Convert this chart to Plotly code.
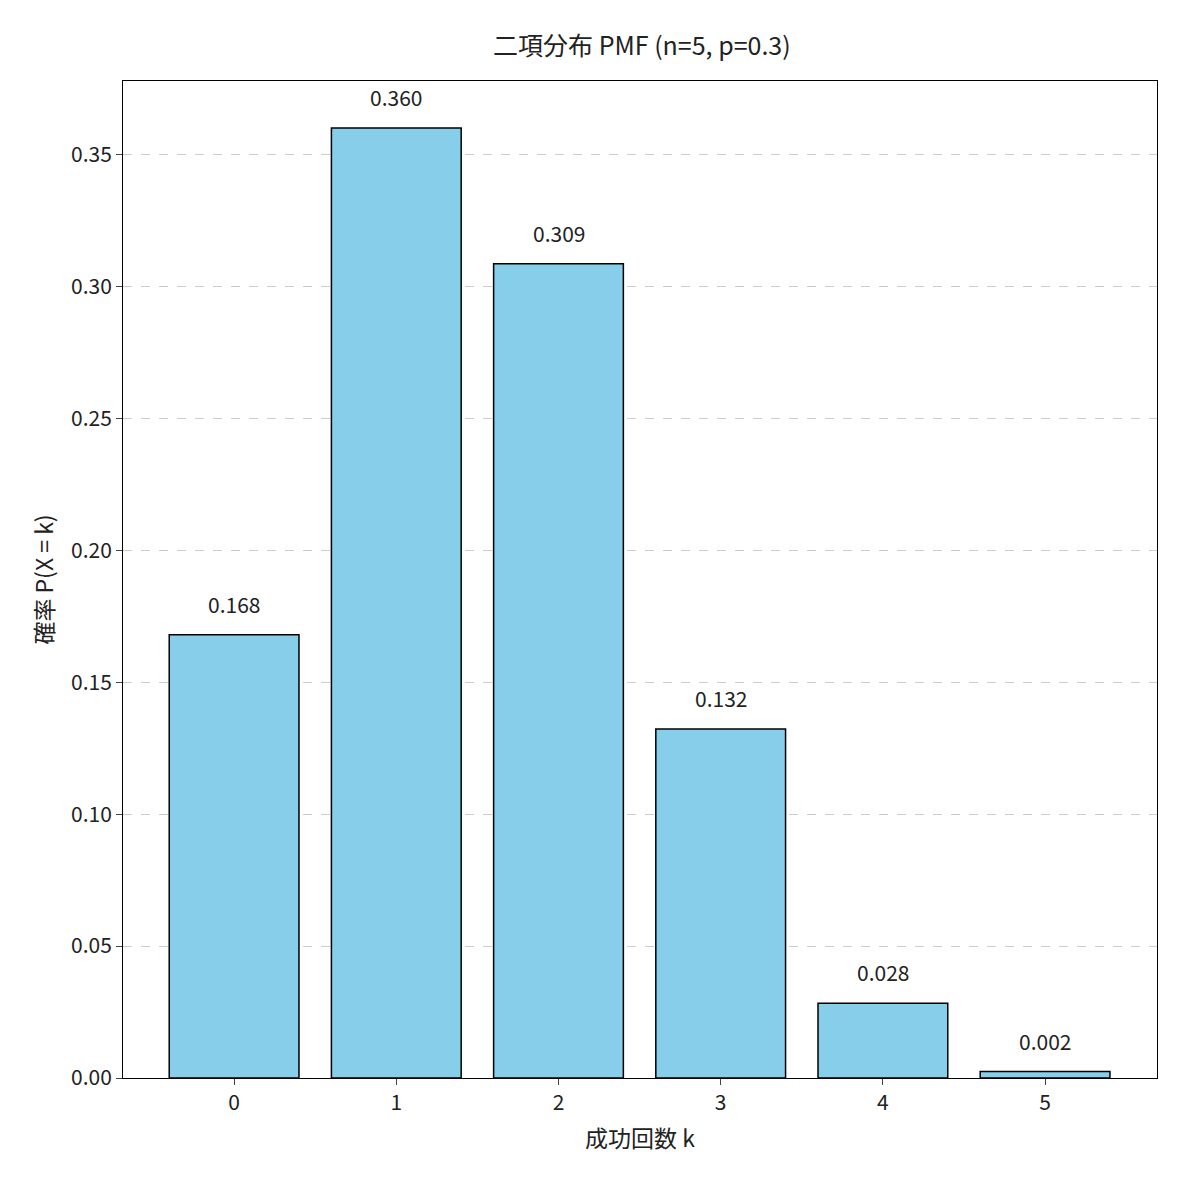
import plotly.graph_objects as go

ks = [0, 1, 2, 3, 4, 5]
probs = [0.16807, 0.36015, 0.30870, 0.13230, 0.02835, 0.00243]
tick_vals = [0, 0.05, 0.10, 0.15, 0.20, 0.25, 0.30, 0.35]
tick_text = ["0.00", "0.05", "0.10", "0.15", "0.20", "0.25", "0.30", "0.35"]

font = "Noto Sans CJK JP"
fig = go.Figure(go.Bar(x=ks, y=probs, width=0.8, marker=dict(color="#87CEEB", line=dict(color="black", width=1.5))))
for k, p in zip(ks, probs):
    fig.add_annotation(x=k, y=p, text=f"{p:.3f}", showarrow=False, yanchor="bottom", yshift=14,
                       font=dict(size=21, color="#222", family=font))
fig.update_layout(
    width=1196, height=1196, plot_bgcolor="white", paper_bgcolor="white",
    margin=dict(l=115, r=47, t=73, b=126),
    font=dict(family=font, size=21, color="#222"),
    title=dict(text="二項分布 PMF (n=5, p=0.3)", x=0.53, xanchor="center", y=0.975, font=dict(size=25)),
    showlegend=False,
)
fig.update_xaxes(range=[-0.685, 5.69], tickvals=ks, ticks="outside", ticklen=6, showline=True, mirror=True,
                 linecolor="black", showgrid=False, title=dict(text="成功回数 k", font=dict(size=23)))
fig.update_yaxes(range=[0, 0.378], tickvals=tick_vals, ticktext=tick_text, ticks="outside", ticklen=6,
                 showline=True, mirror=True, linecolor="black", showgrid=True, gridcolor="#cccccc",
                 griddash="dash", zeroline=False, title=dict(text="確率 P(X = k)", font=dict(size=23), standoff=10))
fig.write_html("out.html")
